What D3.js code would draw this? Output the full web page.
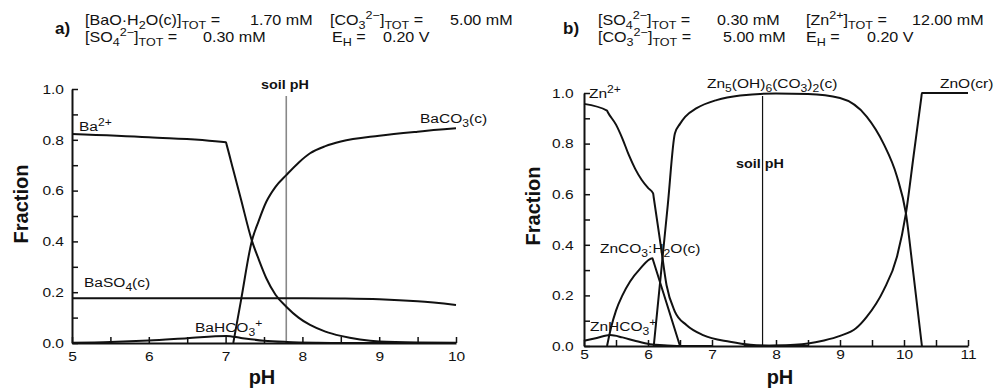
<!DOCTYPE html>
<html>
<head>
<meta charset="utf-8">
<script src="https://cdn.jsdelivr.net/npm/d3@7"></script>
<style>
  body { margin: 0; background: #fff; }
  svg text { font-family: "Liberation Sans", Arial, sans-serif; fill: #111; }
</style>
</head>
<body>
<div id="chart"></div>
<script>
// ---- panel a) barium species, [pH, fraction]
const baIon    = [[5,0.823],[6,0.81],[7.005,0.79],[7.015,0.779],[7.1,0.681],[7.2,0.566],[7.34,0.405],[7.43,0.33],[7.53,0.255],[7.65,0.19],[7.79,0.143],[7.95,0.10],[8.1,0.071],[8.3,0.045],[8.5,0.028],[8.75,0.014],[9,0.006],[9.5,0.002],[10,0.001]];
const baCO3    = [[7.1,0],[7.2,0.167],[7.34,0.40],[7.43,0.48],[7.53,0.556],[7.65,0.615],[7.79,0.661],[7.95,0.71],[8.1,0.747],[8.3,0.775],[8.5,0.793],[9,0.816],[9.5,0.832],[10,0.845]];
const baSO4    = [[5,0.176],[6,0.176],[7,0.176],[8,0.176],[8.5,0.175],[9,0.172],[9.5,0.164],[10,0.15]];
const baHCO3   = [[5,0.001],[5.5,0.004],[6,0.01],[6.5,0.019],[7.01,0.028],[7.2,0.02],[7.5,0.009],[7.8,0.004],[8.2,0.001],[8.5,0],[10,0]];

// ---- panel b) zinc species
const znIon    = [[5,0.957],[5.36,0.93],[5.37,0.925],[5.5,0.875],[5.6,0.82],[5.7,0.755],[5.8,0.70],[5.9,0.657],[6.0,0.625],[6.08,0.603],[6.09,0.586],[6.2,0.396],[6.29,0.24],[6.42,0.136],[6.6,0.083],[6.86,0.043],[7.28,0.017],[7.6,0.005],[8,0.001],[8.5,0]];
const znHydroz = [[6.09,0],[6.2,0.28],[6.31,0.56],[6.42,0.84],[6.5,0.878],[6.58,0.906],[6.76,0.94],[7.07,0.972],[7.44,0.99],[8,0.998],[8.5,0.996],[9,0.98],[9.42,0.906],[9.68,0.80],[9.89,0.67],[10.03,0.524],[10.14,0.30],[10.28,0]];
const znO      = [[7.5,0],[8,0.002],[8.5,0.01],[8.75,0.022],[9,0.04],[9.25,0.07],[9.42,0.116],[9.68,0.22],[9.89,0.353],[10.03,0.524],[10.15,0.752],[10.27,0.981],[10.28,1.0],[11,1.0]];
const znCO3    = [[5.36,0],[5.42,0.07],[5.5,0.14],[5.6,0.2],[5.72,0.255],[5.875,0.305],[6.07,0.347],[6.08,0.339],[6.29,0.17],[6.5,0]];
const znHCO3   = [[5,0.021],[5.2,0.032],[5.41,0.043],[5.6,0.034],[5.78,0.022],[6.03,0.007],[6.3,0.002],[6.6,0],[7,0]];

const soilPH = 7.79;

// ticks
const xTicksA = [5,5.5,6,6.5,7,7.5,8,8.5,9,9.5,10];
const xTicksB = [5,5.5,6,6.5,7,7.5,8,8.5,9,9.5,10,10.5,11];
const yTicks  = [0,0.1,0.2,0.3,0.4,0.5,0.6,0.7,0.8,0.9,1.0];

const width = 999, height = 391;
const SX = 1.15;   // the source text is slightly stretched horizontally

const svg = d3.select("#chart").append("svg")
  .attr("width", width).attr("height", height);

// text with sub/superscripts
function rich(parent, x, y, segs, size, weight, anchor) {
  const t = parent.append("text")
    .attr("transform", `translate(${x},${y}) scale(${SX},1)`)
    .attr("font-size", size)
    .attr("font-weight", weight || "normal")
    .attr("text-anchor", anchor || "start");
  let shift = 0;
  segs.forEach(seg => {
    const k = seg[1];
    const target = k === "sub" ? size * 0.32 : k === "sup" ? -size * 0.4 : 0;
    t.append("tspan")
      .attr("dy", target - shift)
      .attr("font-size", k ? size * 0.78 : size)
      .text(seg[0]);
    shift = target;
  });
  return t;
}

function panel(opts) {
  const x = d3.scaleLinear().domain(opts.xDomain).range(opts.xRange);
  const y = d3.scaleLinear().domain([0, 1]).range(opts.yRange);
  const g = svg.append("g");

  // soil pH line
  g.append("line")
    .attr("x1", x(soilPH)).attr("x2", x(soilPH))
    .attr("y1", opts.soilTop).attr("y2", y(0))
    .attr("stroke", opts.soilColor).attr("stroke-width", opts.soilWidth);

  const xAxis = d3.axisBottom(x)
    .tickValues(opts.xTicks)
    .tickSizeInner(-6).tickSizeOuter(0)
    .tickPadding(opts.xPad)
    .tickFormat(d => Number.isInteger(d) ? d : "");
  const yAxis = d3.axisLeft(y)
    .tickValues(yTicks)
    .tickSizeInner(-6).tickSizeOuter(0)
    .tickPadding(opts.yPad)
    .tickFormat(d => Math.round(d * 10) % 2 === 0 ? d.toFixed(1) : "");

  [[xAxis, `translate(0,${y(0)})`], [yAxis, `translate(${x(opts.xDomain[0])},0)`]].forEach(([ax, tr]) => {
    const a = g.append("g").attr("transform", tr).call(ax);
    a.select(".domain").attr("stroke", "#111").attr("stroke-width", 2);
    a.selectAll(".tick line").attr("stroke", "#111").attr("stroke-width", 1.5);
    a.selectAll(".tick text")
      .attr("font-size", 13.5)
      .attr("font-family", "Liberation Sans, Arial, sans-serif")
      .attr("fill", "#222")
      .attr("transform", `scale(${SX},1)`);
  });

  const line = d3.line()
    .x(d => x(d[0])).y(d => y(d[1]))
    .curve(d3.curveMonotoneX);

  opts.series.forEach(s => {
    g.append("path").datum(s)
      .attr("d", line)
      .attr("fill", "none")
      .attr("stroke", "#111")
      .attr("stroke-width", 2)
      .attr("stroke-linejoin", "round");
  });

  // axis titles
  g.append("text")
    .attr("transform", `translate(${opts.fracX},${opts.fracY}) rotate(-90)`)
    .attr("text-anchor", "middle")
    .attr("font-size", 20).attr("font-weight", "bold")
    .text("Fraction");
  g.append("text")
    .attr("x", opts.phX).attr("y", 384)
    .attr("text-anchor", "middle")
    .attr("font-size", 20).attr("font-weight", "bold")
    .text("pH");

  return { g, x, y };
}

// ---------- panel a
const A = panel({
  xDomain: [5, 10], xRange: [72, 456], yRange: [343, 89],
  xTicks: xTicksA, xPad: 8, yPad: 7,
  soilTop: 96, soilColor: "#888", soilWidth: 1.6,
  series: [baIon, baCO3, baSO4, baHCO3],
  fracX: 28, fracY: 204, phX: 262
});
rich(A.g, 285, 89, [["soil pH"]], 12.5, "bold", "middle");
rich(A.g, 79, 131, [["Ba"], ["2+", "sup"]], 13.5);
rich(A.g, 84, 287, [["BaSO"], ["4", "sub"], ["(c)"]], 13.5);
rich(A.g, 195, 332, [["BaHCO"], ["3", "sub"], ["+", "sup"]], 13.5);
rich(A.g, 420, 123, [["BaCO"], ["3", "sub"], ["(c)"]], 13.5);

// ---------- panel b
const B = panel({
  xDomain: [5, 11], xRange: [584, 968], yRange: [346, 93],
  xTicks: xTicksB, xPad: 3, yPad: 9,
  soilTop: 96, soilColor: "#111", soilWidth: 1.2,
  series: [znIon, znHydroz, znO, znCO3, znHCO3],
  fracX: 540, fracY: 206, phX: 780
});
rich(B.g, 760, 168, [["soil pH"]], 12.5, "bold", "middle");
rich(B.g, 589, 98, [["Zn"], ["2+", "sup"]], 13.5);
rich(B.g, 707, 88, [["Zn"], ["5", "sub"], ["(OH)"], ["6", "sub"], ["(CO"], ["3", "sub"], [")"], ["2", "sub"], ["(c)"]], 13.5);
rich(B.g, 940, 88, [["ZnO(cr)"]], 13.5);
rich(B.g, 600, 253, [["ZnCO"], ["3", "sub"], [":H"], ["2", "sub"], ["O(c)"]], 13.5);
rich(B.g, 590, 331, [["ZnHCO"], ["3", "sub"], ["+", "sup"]], 13.5);

// ---------- headers
const H = svg.append("g");
H.append("text").attr("x", 55).attr("y", 34).attr("font-size", 17).attr("font-weight", "bold").text("a)");
H.append("text").attr("x", 563).attr("y", 34).attr("font-size", 17).attr("font-weight", "bold").text("b)");

const hs = 14;
rich(H, 85, 25, [["[BaO·H"], ["2", "sub"], ["O(c)]"], ["TOT", "sub"], [" ="]], hs);
rich(H, 250, 25, [["1.70 mM"]], hs);
rich(H, 330, 25, [["[CO"], ["3", "sub"], ["2−", "sup"], ["]"], ["TOT", "sub"], [" ="]], hs);
rich(H, 450, 25, [["5.00 mM"]], hs);
rich(H, 85, 42, [["[SO"], ["4", "sub"], ["2−", "sup"], ["]"], ["TOT", "sub"], [" ="]], hs);
rich(H, 203, 42, [["0.30 mM"]], hs);
rich(H, 332, 42, [["E"], ["H", "sub"], [" ="]], hs);
rich(H, 383, 42, [["0.20 V"]], hs);

rich(H, 598, 25, [["[SO"], ["4", "sub"], ["2−", "sup"], ["]"], ["TOT", "sub"], [" ="]], hs);
rich(H, 717, 25, [["0.30 mM"]], hs);
rich(H, 806, 25, [["[Zn"], ["2+", "sup"], ["]"], ["TOT", "sub"], [" ="]], hs);
rich(H, 912, 25, [["12.00 mM"]], hs);
rich(H, 598, 42, [["[CO"], ["3", "sub"], ["2−", "sup"], ["]"], ["TOT", "sub"], [" ="]], hs);
rich(H, 723, 42, [["5.00 mM"]], hs);
rich(H, 806, 42, [["E"], ["H", "sub"], [" ="]], hs);
rich(H, 867, 42, [["0.20 V"]], hs);
</script>
</body>
</html>
